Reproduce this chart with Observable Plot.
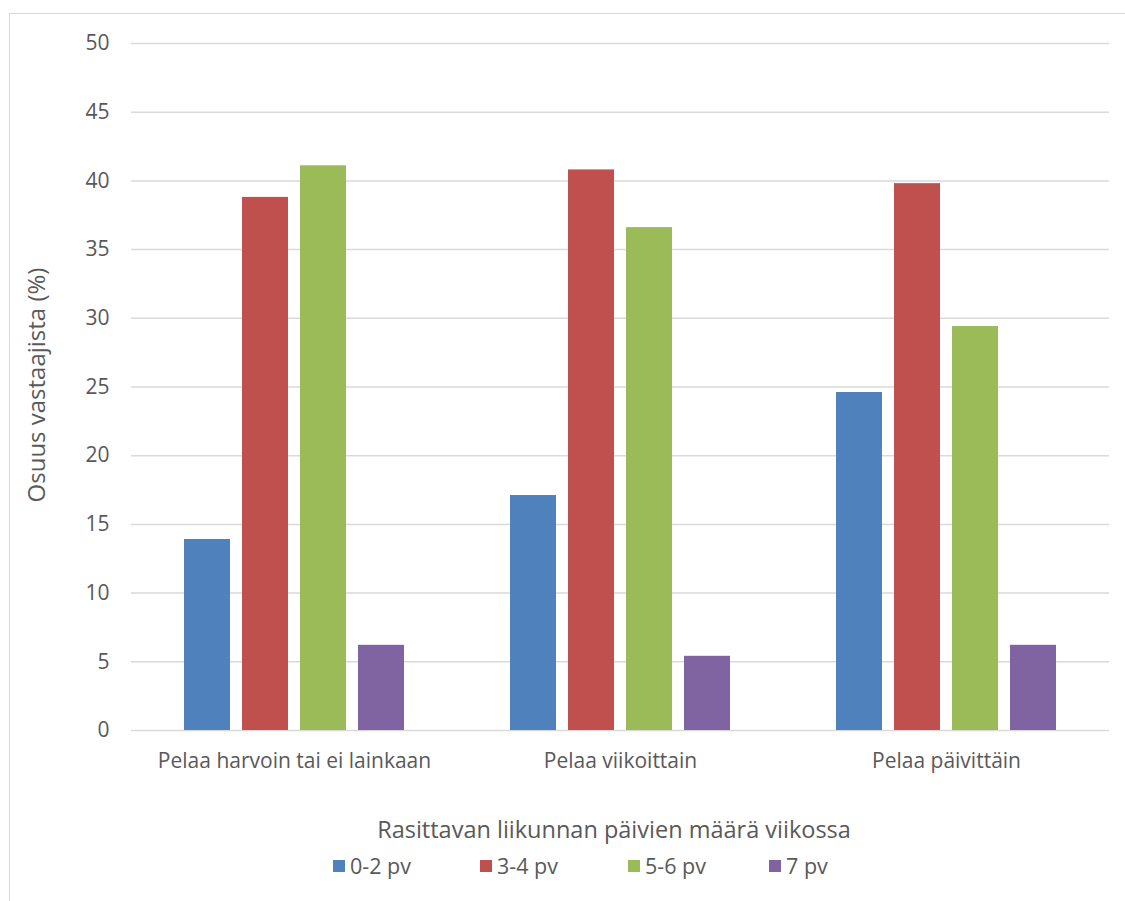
<!DOCTYPE html>
<html>
<head>
<meta charset="utf-8">
<script src="https://cdn.jsdelivr.net/npm/d3@7"></script>
<script src="https://cdn.jsdelivr.net/npm/@observablehq/plot@0.6"></script>
<style>
  html, body { margin: 0; padding: 0; background: #fff; }
  #wrap { position: relative; width: 1125px; height: 901px; overflow: hidden; font-family: "Open Sans", sans-serif; color: #595959; }
  #frame { position: absolute; left: 9px; top: 13px; width: 1200px; height: 1000px; border-left: 1.5px solid #d9d9d9; border-top: 1.5px solid #d9d9d9; }
  #chart { position: absolute; left: 0; top: 0; }
  #ylabel { position: absolute; left: 35px; top: 385px; transform: translate(-50%, -50%) rotate(-90deg); white-space: nowrap; font-size: 24px; }
  #xtitle { position: absolute; left: 0; width: 1228px; top: 812px; line-height: 34px; text-align: center; font-size: 23.5px; }
  #legend { position: absolute; top: 852px; left: 0; width: 1125px; font-size: 21.5px; }
  .item { position: absolute; display: flex; align-items: center; white-space: nowrap; line-height: 28px; }
  .sw { width: 12px; height: 12px; margin-right: 5px; }
</style>
</head>
<body>
<div id="wrap">
  <div id="frame"></div>
  <div id="chart"></div>
  <div id="ylabel">Osuus vastaajista (%)</div>
  <div id="xtitle">Rasittavan liikunnan päivien määrä viikossa</div>
  <div id="legend"></div>
</div>
<script>
const groups = ["Pelaa harvoin tai ei lainkaan", "Pelaa viikoittain", "Pelaa päivittäin"];
const series = ["0-2 pv", "3-4 pv", "5-6 pv", "7 pv"];
const values0_2 = [13.9, 17.1, 24.6];
const values3_4 = [38.8, 40.8, 39.8];
const values5_6 = [41.1, 36.6, 29.4];
const values7 = [6.2, 5.4, 6.2];
const colors = ["#4f81bd", "#c0504d", "#9bbb59", "#8064a2"];
const yTicks = [0, 5, 10, 15, 20, 25, 30, 35, 40, 45, 50];
const xTitle = "Rasittavan liikunnan päivien määrä viikossa";
const yTitle = "Osuus vastaajista (%)";

const seriesValues = [values0_2, values3_4, values5_6, values7];
const data = [];
groups.forEach((g, gi) => {
  series.forEach((s, si) => {
    data.push({group: g, series: s, value: seriesValues[si][gi]});
  });
});

const chart = Plot.plot({
  width: 1125,
  height: 800,
  marginLeft: 131,
  marginRight: 16,
  marginTop: 43,
  marginBottom: 70,
  style: {fontFamily: "'Open Sans', sans-serif", fontSize: "21px", color: "#595959", background: "transparent", overflow: "visible"},
  fx: {domain: groups, padding: 0, label: null, axis: "bottom", tickSize: 0, tickPadding: 23},
  x: {domain: series, paddingInner: 0.2, paddingOuter: 0.88, axis: null},
  y: {domain: [0, 50], ticks: yTicks, label: null, tickSize: 0, tickPadding: 22},
  color: {domain: series, range: colors},
  marks: [
    Plot.ruleY(yTicks, {stroke: "#d9d9d9", strokeWidth: 1.5}),
    Plot.barY(data, {fx: "group", x: "series", y: "value", fill: "series"})
  ]
});
document.getElementById("chart").appendChild(chart);
document.getElementById("xtitle").textContent = xTitle;
document.getElementById("ylabel").textContent = yTitle;

const legendX = [333, 480, 628, 769];
const legend = document.getElementById("legend");
series.forEach((s, i) => {
  const item = document.createElement("div");
  item.className = "item";
  item.style.left = legendX[i] + "px";
  const sw = document.createElement("div");
  sw.className = "sw";
  sw.style.background = colors[i];
  const lab = document.createElement("span");
  lab.textContent = s;
  item.appendChild(sw);
  item.appendChild(lab);
  legend.appendChild(item);
});
</script>
</body>
</html>
